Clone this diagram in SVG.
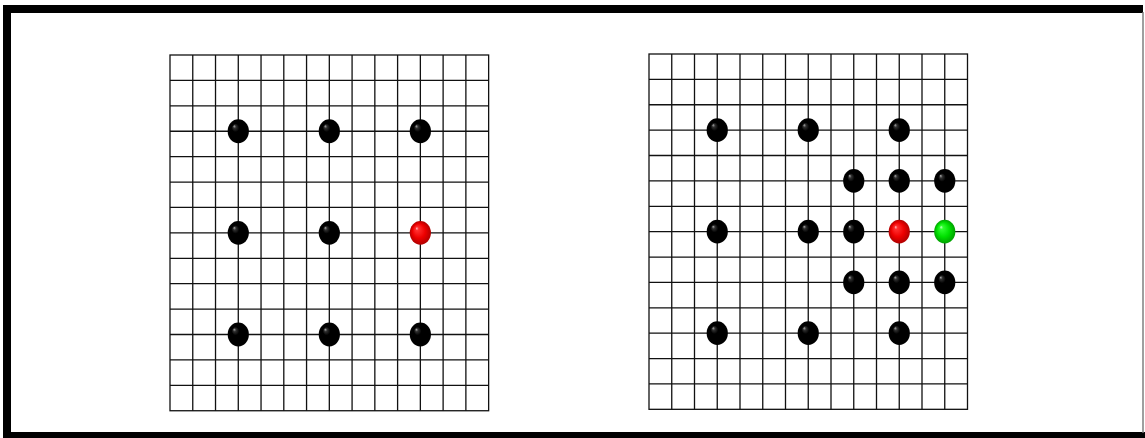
<svg xmlns="http://www.w3.org/2000/svg" xmlns:xlink="http://www.w3.org/1999/xlink" width="1145" height="438" viewBox="0 0 1145 438">
  <defs>
    <radialGradient id="gBlack" cx="0.5" cy="0.5" r="0.5" fx="0.3" fy="0.28">
      <stop offset="0" stop-color="#b0b0b0"/>
      <stop offset="0.14" stop-color="#303030"/>
      <stop offset="0.35" stop-color="#000"/>
      <stop offset="1" stop-color="#000"/>
    </radialGradient>
    <radialGradient id="gRed" cx="0.5" cy="0.5" r="0.5" fx="0.32" fy="0.3">
      <stop offset="0" stop-color="#ffc0c0"/>
      <stop offset="0.15" stop-color="#ff3030"/>
      <stop offset="0.6" stop-color="#ee0000"/>
      <stop offset="1" stop-color="#b00000"/>
    </radialGradient>
    <radialGradient id="gGreen" cx="0.5" cy="0.5" r="0.5" fx="0.32" fy="0.3">
      <stop offset="0" stop-color="#d0ffd0"/>
      <stop offset="0.15" stop-color="#30ff30"/>
      <stop offset="0.6" stop-color="#00e000"/>
      <stop offset="1" stop-color="#00a000"/>
    </radialGradient>
  </defs>
  <style>
    .grid { fill: none; stroke: #111; stroke-width: 1.3; }
    .frame { fill: #000; }
    .black { fill: url(#gBlack); }
    .red { fill: url(#gRed); }
    .green { fill: url(#gGreen); }
  </style>
  <rect x="0" y="0" width="1145" height="438" fill="#fff"/>
  <g id="frame">
    <rect class="frame" x="3" y="5" width="1140" height="8"/>
    <rect class="frame" x="3" y="5" width="8" height="433"/>
    <rect class="frame" x="3" y="432" width="1142" height="6"/>
    <rect x="1142.3" y="12" width="1.4" height="421" fill="#777"/>
  </g>
  <g id="board-left">
    <rect class="grid" x="170" y="55" width="318.64" height="355.74"/>
    <path class="grid" d="M192.76 55V410.74M215.52 55V410.74M238.28 55V410.74M261.04 55V410.74M283.8 55V410.74M306.56 55V410.74M329.32 55V410.74M352.08 55V410.74M374.84 55V410.74M397.6 55V410.74M420.36 55V410.74M443.12 55V410.74M465.88 55V410.74
      M170 80.41H488.64M170 105.82H488.64M170 131.23H488.64M170 156.64H488.64M170 182.05H488.64M170 207.46H488.64M170 232.87H488.64M170 258.28H488.64M170 283.69H488.64M170 309.1H488.64M170 334.51H488.64M170 359.92H488.64M170 385.33H488.64"/>
  </g>
  <g id="stones-left">
    <ellipse id="L-3-3" class="black" cx="238.28" cy="131.23" rx="10.6" ry="11.9"/>
    <ellipse id="L-7-3" class="black" cx="329.32" cy="131.23" rx="10.6" ry="11.9"/>
    <ellipse id="L-11-3" class="black" cx="420.36" cy="131.23" rx="10.6" ry="11.9"/>
    <ellipse id="L-3-7" class="black" cx="238.28" cy="232.87" rx="10.6" ry="11.9"/>
    <ellipse id="L-7-7" class="black" cx="329.32" cy="232.87" rx="10.6" ry="11.9"/>
    <ellipse id="L-11-7" class="red" cx="420.36" cy="232.87" rx="10.6" ry="11.9"/>
    <ellipse id="L-3-11" class="black" cx="238.28" cy="334.51" rx="10.6" ry="11.9"/>
    <ellipse id="L-7-11" class="black" cx="329.32" cy="334.51" rx="10.6" ry="11.9"/>
    <ellipse id="L-11-11" class="black" cx="420.36" cy="334.51" rx="10.6" ry="11.9"/>
  </g>
  <g id="board-right">
    <rect class="grid" x="649" y="54" width="318.5" height="355.32"/>
    <path class="grid" d="M671.75 54V409.32M694.5 54V409.32M717.25 54V409.32M740 54V409.32M762.75 54V409.32M785.5 54V409.32M808.25 54V409.32M831 54V409.32M853.75 54V409.32M876.5 54V409.32M899.25 54V409.32M922 54V409.32M944.75 54V409.32
      M649 79.38H967.5M649 104.76H967.5M649 130.14H967.5M649 155.52H967.5M649 180.9H967.5M649 206.28H967.5M649 231.66H967.5M649 257.04H967.5M649 282.42H967.5M649 307.8H967.5M649 333.18H967.5M649 358.56H967.5M649 383.94H967.5"/>
  </g>
  <g id="stones-right">
    <ellipse id="R-3-3" class="black" cx="717.25" cy="130.14" rx="10.6" ry="11.9"/>
    <ellipse id="R-7-3" class="black" cx="808.25" cy="130.14" rx="10.6" ry="11.9"/>
    <ellipse id="R-11-3" class="black" cx="899.25" cy="130.14" rx="10.6" ry="11.9"/>
    <ellipse id="R-9-5" class="black" cx="853.75" cy="180.9" rx="10.6" ry="11.9"/>
    <ellipse id="R-11-5" class="black" cx="899.25" cy="180.9" rx="10.6" ry="11.9"/>
    <ellipse id="R-13-5" class="black" cx="944.75" cy="180.9" rx="10.6" ry="11.9"/>
    <ellipse id="R-3-7" class="black" cx="717.25" cy="231.66" rx="10.6" ry="11.9"/>
    <ellipse id="R-7-7" class="black" cx="808.25" cy="231.66" rx="10.6" ry="11.9"/>
    <ellipse id="R-9-7" class="black" cx="853.75" cy="231.66" rx="10.6" ry="11.9"/>
    <ellipse id="R-11-7" class="red" cx="899.25" cy="231.66" rx="10.6" ry="11.9"/>
    <ellipse id="R-13-7" class="green" cx="944.75" cy="231.66" rx="10.6" ry="11.9"/>
    <ellipse id="R-9-9" class="black" cx="853.75" cy="282.42" rx="10.6" ry="11.9"/>
    <ellipse id="R-11-9" class="black" cx="899.25" cy="282.42" rx="10.6" ry="11.9"/>
    <ellipse id="R-13-9" class="black" cx="944.75" cy="282.42" rx="10.6" ry="11.9"/>
    <ellipse id="R-3-11" class="black" cx="717.25" cy="333.18" rx="10.6" ry="11.9"/>
    <ellipse id="R-7-11" class="black" cx="808.25" cy="333.18" rx="10.6" ry="11.9"/>
    <ellipse id="R-11-11" class="black" cx="899.25" cy="333.18" rx="10.6" ry="11.9"/>
  </g>
  <g id="connectors"/>
</svg>
